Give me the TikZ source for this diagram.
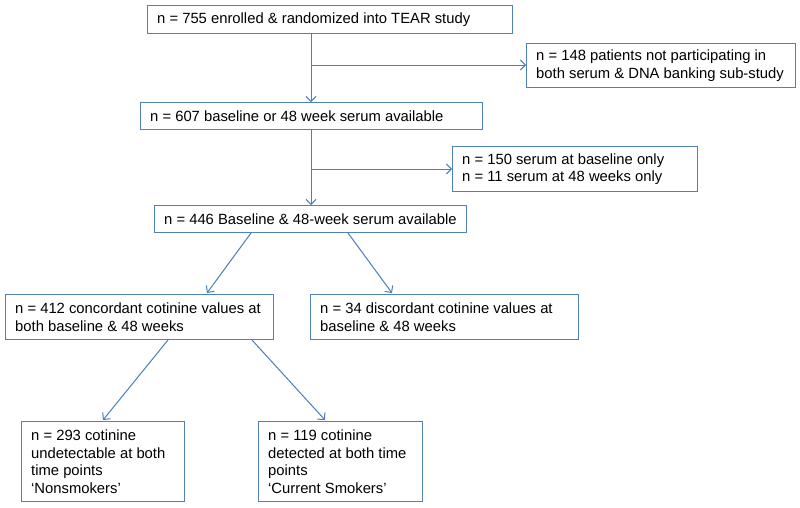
\documentclass[tikz,border=0pt]{standalone}
\usepackage{fontspec}
\setmainfont{Liberation Sans}
\usetikzlibrary{arrows.meta}
\definecolor{boxblue}{RGB}{79,129,189}
\definecolor{linkblue}{RGB}{74,126,187}
\begin{document}
\begin{tikzpicture}[x=1pt,y=-1pt,
  fbox/.style={draw=boxblue,line width=1.2pt,anchor=north west,inner sep=0pt},
  ftext/.style={anchor=west,inner sep=0pt,align=left,font=\fontsize{14.8}{17.7}\selectfont},
  conn/.style={draw=linkblue,line width=1pt,-{Straight Barb[length=5pt,width=10pt,line width=1pt]}}]
\useasboundingbox (0,0) rectangle (800,507);
\newcommand{\fbx}[6]{\node[fbox,minimum width=#4pt,minimum height=#5pt] (#1) at (#2,#3) {};
  \node[ftext] (#1t) at ([xshift=10pt]#1.west) {#6};}
\fbx{b1}{147}{5}{365}{28}{n = 755 enrolled \& randomized into TEAR study}
\fbx{b2}{526}{43}{269}{44}{n = 148 patients not participating in\\both serum \& DNA banking sub-study}
\fbx{b3}{140}{102}{342}{27}{n = 607 baseline or 48 week serum available}
\fbx{b4}{452}{146}{245}{45}{n = 150 serum at baseline only\\n = 11 serum at 48 weeks only}
\fbx{b5}{154}{205}{312}{27}{n = 446 Baseline \& 48-week serum available}
\fbx{b6}{5}{294}{268}{45}{n = 412 concordant cotinine values at\\both baseline \& 48 weeks}
\fbx{b7}{310}{294}{268}{45}{n = 34 discordant cotinine values at\\baseline \& 48 weeks}
\fbx{b8}{21}{421}{163}{80}{n = 293 cotinine\\undetectable at both\\time points\\‘Nonsmokers’}
\fbx{b9}{258}{421}{164}{80}{n = 119 cotinine\\detected at both time\\points\\‘Current Smokers’}
\coordinate (j1) at (311,65);
\coordinate (j2) at (311,169);
\draw[conn] (311,0|-b1.south) -- (311,0|-b3.north);
\draw[conn] (j1) -- (j1-|b2.west);
\draw[conn] (311,0|-b3.south) -- (311,0|-b5.north);
\draw[conn] (j2) -- (j2-|b4.west);
\coordinate (s5l) at (251,233);
\coordinate (s5r) at (348,233);
\coordinate (t6) at (207,293);
\coordinate (t7) at (392,293);
\draw[conn] (s5l) -- (t6);
\draw[conn] (s5r) -- (t7);
\coordinate (s6l) at (168,340);
\coordinate (s6r) at (252,340);
\coordinate (t8) at (103,420);
\coordinate (t9) at (325,420);
\draw[conn] (s6l) -- (t8);
\draw[conn] (s6r) -- (t9);
\end{tikzpicture}
\end{document}
